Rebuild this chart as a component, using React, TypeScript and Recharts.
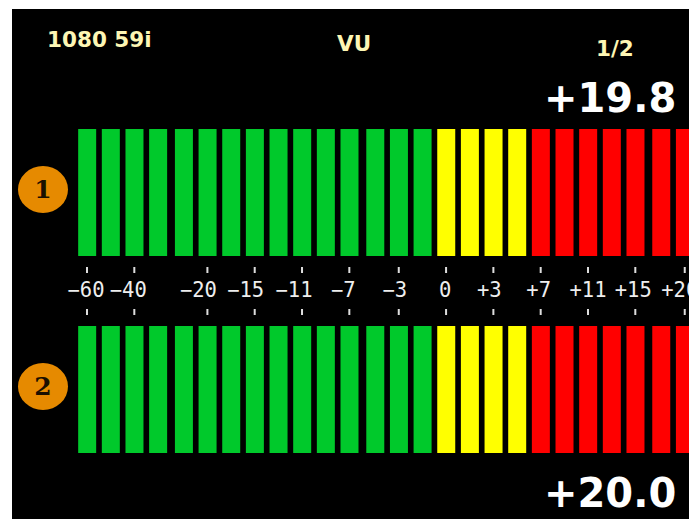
import { Bar, BarChart, Cell, XAxis, YAxis } from "recharts";

// one entry per LED segment, dB
const segmentDb = [
  -60, -50, -40, -30, -25, -20, -17, -15, -13, -11, -9, -7, -5, -3, -1.5, 0,
  1.5, 3, 5, 7, 9, 11, 13, 15, 17.5, 20,
];
// position along the meter in segment pitches, the blocks have small gaps between them
const meterSlots = [
  0, 1, 2, 3, 4.09, 5.09, 6.09, 7.09, 8.09, 9.09, 10.09, 11.09, 12.18, 13.18,
  14.18, 15.18, 16.18, 17.18, 18.18, 19.18, 20.18, 21.18, 22.18, 23.18, 24.27,
  25.27,
];
const channel1Lit = [1, 1, 1, 1, 1, 1, 1, 1, 1, 1, 1, 1, 1, 1, 1, 1, 1, 1, 1, 1, 1, 1, 1, 1, 1, 1];
const channel2Lit = [1, 1, 1, 1, 1, 1, 1, 1, 1, 1, 1, 1, 1, 1, 1, 1, 1, 1, 1, 1, 1, 1, 1, 1, 1, 1];

const scaleDb = [-60, -40, -20, -15, -11, -7, -3, 0, 3, 7, 11, 15, 20];
const scaleLabels = ["−60", "−40", "−20", "−15", "−11", "−7", "−3", "0", "+3", "+7", "+11", "+15", "+20"];
// labels sit a little left of their tick in the original
const labelNudge = [-1, -6, -9, -9, -8, -6, -4, -1, -4, -2, 0, -2, -5];

const GREEN = "#00c92b";
const YELLOW = "#ffff00";
const RED = "#ff0000";
const HEADER = "#fdf6b4";
const SANS = "'DejaVu Sans', sans-serif";

const segmentColor = (db: number) => (db < 0 ? GREEN : db < 7 ? YELLOW : RED);
const scaleTicks = scaleDb.map((db) => meterSlots[segmentDb.indexOf(db)]);

function ScaleTick({ x, y, payload }: any) {
  const i = scaleTicks.indexOf(payload.value);
  return (
    <g>
      <rect x={x - 1} y={y + 11} width={2} height={6} fill="#dddddd" />
      <text
        x={x + labelNudge[i]}
        y={y + 41}
        textAnchor="middle"
        fill="#eeeeee"
        fontFamily="'DejaVu Sans Mono', monospace"
        fontSize={20.5}
      >
        {scaleLabels[i]}
      </text>
      <rect x={x - 1} y={y + 53} width={2} height={6} fill="#dddddd" />
    </g>
  );
}

function Meter({ lit, top, showScale }: { lit: number[]; top: number; showScale: boolean }) {
  const rows = segmentDb.map((db, i) => ({ db, slot: meterSlots[i], lit: lit[i] }));
  return (
    <div style={{ position: "absolute", left: 0, top }}>
      <BarChart
        width={677}
        height={showScale ? 197 : 127}
        data={rows}
        margin={{ top: 0, right: 0, left: 75, bottom: 0 }}
      >
        <XAxis
          dataKey="slot"
          type="number"
          domain={[0, 25.45]}
          ticks={scaleTicks}
          interval={0}
          hide={!showScale}
          height={70}
          axisLine={false}
          tickLine={false}
          tickSize={0}
          tickMargin={0}
          tick={<ScaleTick />}
        />
        <YAxis hide domain={[0, 1]} />
        <Bar dataKey="lit" barSize={18} isAnimationActive={false}>
          {rows.map((r) => (
            <Cell key={r.db} fill={segmentColor(r.db)} />
          ))}
        </Bar>
      </BarChart>
    </div>
  );
}

function Label({ x, y, size, color, text }: { x: number; y: number; size: number; color: string; text: string }) {
  return (
    <div
      style={{
        position: "absolute",
        left: x,
        top: y,
        fontFamily: SANS,
        fontWeight: "bold",
        fontSize: size,
        lineHeight: 1,
        color,
        whiteSpace: "nowrap",
      }}
    >
      {text}
    </div>
  );
}

function Badge({ y, text }: { y: number; text: string }) {
  return (
    <div
      style={{
        position: "absolute",
        left: 6,
        top: y,
        width: 50,
        height: 47,
        borderRadius: "50%",
        background: "#e68a00",
        color: "#1a1000",
        fontFamily: "'DejaVu Serif', serif",
        fontWeight: "bold",
        fontSize: 25,
        lineHeight: "47px",
        textAlign: "center",
      }}
    >
      {text}
    </div>
  );
}

export default function App() {
  return (
    <div
      style={{
        position: "absolute",
        left: 12,
        top: 9,
        width: 677,
        height: 510,
        background: "#000000",
        overflow: "hidden",
      }}
    >
      <Label x={35} y={20} size={21.5} color={HEADER} text="1080 59i" />
      <Label x={325} y={24} size={21.5} color={HEADER} text="VU" />
      <Label x={584} y={29} size={21.5} color={HEADER} text="1/2" />
      <Label x={532} y={69} size={40} color="#ffffff" text="+19.8" />
      <Label x={532} y={464} size={40} color="#ffffff" text="+20.0" />
      <Badge y={157} text="1" />
      <Badge y={354} text="2" />
      <Meter lit={channel1Lit} top={120} showScale />
      <Meter lit={channel2Lit} top={317} showScale={false} />
    </div>
  );
}
